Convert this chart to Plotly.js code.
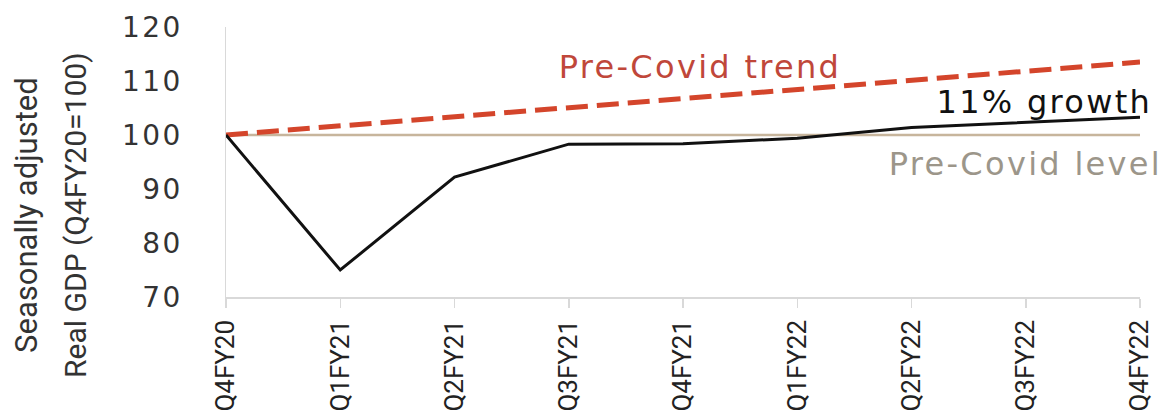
<!DOCTYPE html>
<html>
<head>
<meta charset="utf-8">
<script src="https://cdn.plot.ly/plotly-3.0.1.min.js"></script>
<style>
  html, body { margin: 0; padding: 0; background: #ffffff; }
  #chart { width: 1167px; height: 420px; }
  .annotation-text.wide { letter-spacing: 2.3px; }
  .ytick text { letter-spacing: 2.5px; }
</style>
</head>
<body>
<div id="chart"></div>
<script>
// ---- data ----
const quarters = ["Q4FY20", "Q1FY21", "Q2FY21", "Q3FY21", "Q4FY21", "Q1FY22", "Q2FY22", "Q3FY22", "Q4FY22"];
const realGdp = [100, 75, 92.2, 98.3, 98.4, 99.4, 101.4, 102.3, 103.3];
const preCovidTrend = [100, 101.7, 103.4, 105.1, 106.8, 108.4, 110.1, 111.8, 113.5];
const preCovidLevel = [100, 100, 100, 100, 100, 100, 100, 100, 100];
const yTickValues = [70, 80, 90, 100, 110, 120];
const yTitleLines = ["Seasonally adjusted", "Real GDP (Q4FY20=100)"];

const traces = [
  { x: quarters, y: preCovidLevel, type: "scatter", mode: "lines",
    line: { color: "#c7b59c", width: 2.5 }, hoverinfo: "skip", showlegend: false },
  { x: quarters, y: preCovidTrend, type: "scatter", mode: "lines",
    line: { color: "#d4452b", width: 5, dash: "22px,9px" }, hoverinfo: "skip", showlegend: false },
  { x: quarters, y: realGdp, type: "scatter", mode: "lines",
    line: { color: "#111111", width: 3 }, hoverinfo: "skip", showlegend: false }
];

const annFont = "DejaVu Sans, Noto Sans, sans-serif";
const narrowFont = "Liberation Sans Narrow, Roboto, sans-serif";
const layout = {
  width: 1167, height: 420,
  margin: { l: 226, r: 27, t: 27, b: 123 },
  paper_bgcolor: "#ffffff", plot_bgcolor: "#ffffff",
  showlegend: false,
  xaxis: {
    type: "category", range: [0, quarters.length - 1],
    showgrid: false, zeroline: false,
    showline: true, linecolor: "#d9d9d9", linewidth: 1.5,
    ticks: "outside", ticklen: 9, tickcolor: "#d9d9d9", tickwidth: 1.5,
    tickangle: -90, ticklabelstandoff: 2,
    tickfont: { family: narrowFont, size: 26, color: "#222222" }
  },
  yaxis: {
    range: [70, 120], tickvals: yTickValues, ticktext: yTickValues.map(String),
    showgrid: false, zeroline: false,
    showline: true, linecolor: "#d9d9d9", linewidth: 1.5,
    ticks: "", ticklabelstandoff: 36,
    tickfont: { family: annFont, size: 28, color: "#333333" }
  },
  annotations: [
    { text: "Pre-Covid trend", x: 4.15, y: 112.6, xref: "x", yref: "y", showarrow: false,
      xanchor: "center", yanchor: "middle", font: { family: annFont, size: 32, color: "#c0473a" } },
    { text: "11% growth", x: 7.16, y: 106.2, xref: "x", yref: "y", showarrow: false,
      xanchor: "center", yanchor: "middle", font: { family: annFont, size: 32, color: "#111111" } },
    { text: "Pre-Covid level", x: 7.0, y: 94.7, xref: "x", yref: "y", showarrow: false,
      xanchor: "center", yanchor: "middle", font: { family: annFont, size: 32, color: "#9c968a" } },
    { text: yTitleLines[0], x: -0.2177, y: 0.304,
      xref: "paper", yref: "paper", showarrow: false, textangle: -90,
      xanchor: "center", yanchor: "middle",
      font: { family: narrowFont, size: 31, color: "#333333" } },
    { text: yTitleLines[1], x: -0.1641, y: 0.304,
      xref: "paper", yref: "paper", showarrow: false, textangle: -90,
      xanchor: "center", yanchor: "middle",
      font: { family: narrowFont, size: 30, color: "#333333" } }
  ]
};

Plotly.newPlot("chart", traces, layout, { displayModeBar: false, staticPlot: true }).then(function (gd) {
  const texts = gd.querySelectorAll(".annotation-text");
  for (let i = 0; i < 3 && i < texts.length; i++) texts[i].classList.add("wide");
});
</script>
</body>
</html>
